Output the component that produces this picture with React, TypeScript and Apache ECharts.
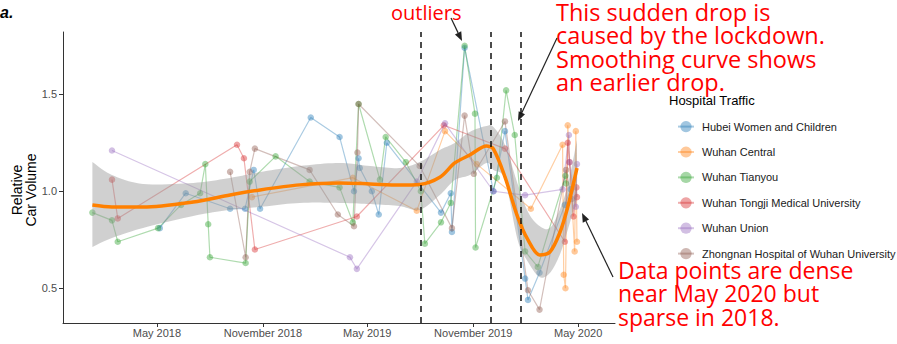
import React, { useEffect, useRef } from 'react';
import * as echarts from 'echarts';

// ---------- data ----------
const hospitalNames = [
  'Hubei Women and Children',
  'Wuhan Central',
  'Wuhan Tianyou',
  'Wuhan Tongji Medical University',
  'Wuhan Union',
  'Zhongnan Hospital of Wuhan University',
];
const hospitalColors = ['#1f77b4', '#ff7f0e', '#2ca02c', '#d62728', '#9467bd', '#8c564b'];

const hubeiWomenChildren: [string, number][] = [
  ['2018-05-06', 0.81], ['2018-06-20', 0.99], ['2018-09-05', 0.91], ['2018-10-01', 0.91],
  ['2018-10-16', 1.11], ['2018-10-27', 0.91], ['2019-01-23', 1.38], ['2019-03-14', 1.28],
  ['2019-04-08', 1.0], ['2019-04-16', 1.17], ['2019-04-18', 1.12], ['2019-05-09', 1.0],
  ['2019-05-21', 0.88], ['2019-06-04', 1.25], ['2019-09-06', 0.89], ['2019-09-23', 0.99],
  ['2019-09-25', 0.79], ['2019-10-17', 1.74], ['2019-12-06', 1.0], ['2019-12-26', 1.31],
  ['2020-01-30', 0.55], ['2020-02-04', 0.44], ['2020-02-24', 0.58], ['2020-04-08', 0.93],
  ['2020-04-18', 1.01],
];
const wuhanCentral: [string, number][] = [
  ['2018-10-13', 0.97], ['2019-04-06', 1.07], ['2019-07-26', 0.9], ['2019-09-13', 1.31],
  ['2019-11-07', 1.14], ['2020-02-09', 0.91], ['2020-04-04', 1.24], ['2020-04-06', 0.57],
  ['2020-04-09', 0.5], ['2020-04-13', 1.34], ['2020-04-25', 0.69], ['2020-04-27', 1.31],
  ['2020-04-29', 0.74],
];
const wuhanTianyou: [string, number][] = [
  ['2018-01-09', 0.89], ['2018-02-12', 0.85], ['2018-02-22', 0.74], ['2018-05-03', 0.81],
  ['2018-06-12', 0.93], ['2018-07-15', 0.99], ['2018-07-24', 1.14], ['2018-07-29', 0.83],
  ['2018-08-01', 0.66], ['2018-10-02', 0.63], ['2018-10-09', 1.05], ['2018-11-23', 1.18],
  ['2019-01-21', 1.05], ['2019-03-14', 1.02], ['2019-04-06', 0.84], ['2019-04-16', 1.45],
  ['2019-05-23', 1.06], ['2019-06-02', 1.28], ['2019-07-07', 1.15], ['2019-08-02', 1.0],
  ['2019-08-09', 0.73], ['2019-09-06', 0.84], ['2019-09-23', 0.94], ['2019-10-17', 1.75],
  ['2019-11-04', 1.4], ['2019-11-05', 0.71], ['2019-12-12', 1.07], ['2019-12-28', 1.52],
  ['2020-01-12', 1.29], ['2020-01-30', 0.69], ['2020-02-21', 0.61], ['2020-04-09', 1.08],
  ['2020-04-10', 1.04],
];
const wuhanTongji: [string, number][] = [
  ['2018-02-12', 1.06], ['2018-02-22', 0.86], ['2018-09-17', 1.24], ['2018-09-29', 1.17],
  ['2018-10-18', 0.7], ['2019-04-13', 0.87], ['2019-09-11', 1.34], ['2019-12-26', 1.22],
  ['2020-04-08', 0.74], ['2020-04-13', 1.25], ['2020-04-16', 1.15], ['2020-04-23', 0.87],
  ['2020-04-28', 1.02], ['2020-04-29', 0.97],
];
const wuhanUnion: [string, number][] = [
  ['2018-02-12', 1.21], ['2019-04-01', 0.66], ['2019-04-13', 0.6], ['2019-07-26', 1.05],
  ['2019-09-13', 1.35], ['2019-12-06', 1.0], ['2020-01-30', 0.98], ['2020-04-04', 1.01],
  ['2020-04-15', 1.29], ['2020-04-16', 1.15], ['2020-04-27', 0.92], ['2020-04-29', 1.14],
];
const zhongnan: [string, number][] = [
  ['2018-09-05', 1.1], ['2018-10-02', 0.66], ['2018-10-09', 1.1], ['2018-10-18', 1.22],
  ['2019-01-21', 1.11], ['2019-03-11', 0.88], ['2019-04-08', 0.82], ['2019-04-14', 1.2],
  ['2019-04-16', 1.45], ['2019-07-31', 1.13], ['2019-09-25', 0.81], ['2019-10-17', 1.39],
  ['2019-11-02', 1.09], ['2019-12-26', 1.36], ['2020-02-04', 0.49], ['2020-02-24', 0.39],
  ['2020-04-10', 1.11], ['2020-04-20', 0.96],
];
const hospitalSeries = [hubeiWomenChildren, wuhanCentral, wuhanTianyou, wuhanTongji, wuhanUnion, zhongnan];

const smoothDates = [
  '2018-01-09', '2018-02-12', '2018-04-07', '2018-07-03', '2018-09-05', '2018-10-27',
  '2019-01-04', '2019-03-14', '2019-05-06', '2019-06-26', '2019-07-31', '2019-09-04',
  '2019-09-30', '2019-10-26', '2019-11-24', '2019-12-06', '2019-12-26', '2020-01-17',
  '2020-02-04', '2020-02-24', '2020-03-13', '2020-03-30', '2020-04-13', '2020-04-29',
];
const smoothFit = [
  0.929, 0.919, 0.919, 0.945, 0.981, 1.007, 1.033, 1.043, 1.038, 1.032, 1.035, 1.072,
  1.146, 1.187, 1.234, 1.218, 1.074, 0.868, 0.749, 0.672, 0.687, 0.785, 0.919, 1.12,
];
const bandUpper = [
  1.151, 1.084, 1.038, 1.043, 1.069, 1.099, 1.13, 1.146, 1.13, 1.12, 1.151, 1.213,
  1.249, 1.306, 1.337, 1.331, 1.239, 1.038, 0.893, 0.821, 0.811, 0.904, 1.033, 1.264,
];
const bandLower = [
  0.713, 0.759, 0.811, 0.873, 0.904, 0.919, 0.94, 0.94, 0.934, 0.924, 0.904, 0.981,
  1.058, 1.084, 1.146, 1.11, 1.058, 0.749, 0.636, 0.558, 0.579, 0.672, 0.801, 0.966,
];

const markerDates = ['2019-08-02', '2019-12-02', '2020-01-23'];

const xTickDates = ['2018-05-01', '2018-11-01', '2019-05-01', '2019-11-01', '2020-05-01'];
const xTickLabels = ['May 2018', 'November 2018', 'May 2019', 'November 2019', 'May 2020'];
const xRange = ['2017-11-19', '2020-07-04'];
const yTicks = [0.5, 1.0, 1.5];
const yRange = [0.321, 1.821];

// ---------- helpers ----------
const ts = (s: string) => {
  const [y, m, d] = s.split('-').map(Number);
  return Date.UTC(y, m - 1, d);
};

const FONT = 'Liberation Sans, Arial, sans-serif';
const ANNOT_FONT = 'Open Sans, DejaVu Sans, sans-serif';

// Catmull-Rom resampling of an already-projected pixel polyline (for a smooth band edge)
function spline(pts: number[][], steps = 10): number[][] {
  const out: number[][] = [];
  const n = pts.length;
  for (let i = 0; i < n - 1; i++) {
    const p0 = pts[Math.max(0, i - 1)], p1 = pts[i], p2 = pts[i + 1], p3 = pts[Math.min(n - 1, i + 2)];
    for (let s = 0; s < steps; s++) {
      const t = s / steps, t2 = t * t, t3 = t2 * t;
      const f = (a: number, b: number, c: number, d: number) =>
        0.5 * (2 * b + (-a + c) * t + (2 * a - 5 * b + 4 * c - d) * t2 + (-a + 3 * b - 3 * c + d) * t3);
      out.push([f(p0[0], p1[0], p2[0], p3[0]), f(p0[1], p1[1], p2[1], p3[1])]);
    }
  }
  out.push(pts[n - 1]);
  return out;
}

function arrow(x1: number, y1: number, x2: number, y2: number, color = '#222', w = 1.2) {
  const ang = Math.atan2(y2 - y1, x2 - x1);
  const L = 9, H = 3.5;
  const bx = x2 - L * Math.cos(ang), by = y2 - L * Math.sin(ang);
  const px = -Math.sin(ang) * H, py = Math.cos(ang) * H;
  return [
    { type: 'line', shape: { x1, y1, x2: bx, y2: by }, style: { stroke: color, lineWidth: w }, silent: true },
    {
      type: 'polygon',
      shape: { points: [[x2, y2], [bx + px, by + py], [bx - px, by - py]] },
      style: { fill: color },
      silent: true,
    },
  ];
}

export default function App() {
  const ref = useRef<HTMLDivElement>(null);

  useEffect(() => {
    if (!ref.current) return;
    const chart = echarts.init(ref.current, undefined, { renderer: 'svg' });

    const xTickTs = xTickDates.map(ts);

    const dataSeries = hospitalSeries.map((pts, i) => ({
      type: 'line',
      name: hospitalNames[i],
      data: pts.map(([d, v]) => [ts(d), v]),
      symbol: 'circle',
      symbolSize: 6.5,
      showAllSymbol: true,
      lineStyle: { color: hospitalColors[i], width: 1.2, opacity: 0.38 },
      itemStyle: { color: hospitalColors[i], opacity: 0.42 },
      emphasis: { disabled: true },
      z: 2,
    }));

    const option: any = {
      animation: false,
      textStyle: { fontFamily: FONT },
      grid: { left: 63, right: 282, top: 32, bottom: 21, containLabel: false },
      xAxis: {
        type: 'value',
        min: ts(xRange[0]),
        max: ts(xRange[1]),
        splitLine: { show: false },
        axisLine: { show: true, lineStyle: { color: '#333', width: 1 } },
        axisTick: { show: true, length: 4, lineStyle: { color: '#333' }, customValues: xTickTs },
        axisLabel: {
          customValues: xTickTs,
          color: '#4d4d4d',
          fontSize: 11,
          margin: 4,
          formatter: (v: number) => {
            let best = 0;
            xTickTs.forEach((t, i) => {
              if (Math.abs(t - v) < Math.abs(xTickTs[best] - v)) best = i;
            });
            return xTickLabels[best];
          },
        },
      },
      yAxis: {
        type: 'value',
        min: yRange[0],
        max: yRange[1],
        splitLine: { show: false },
        axisLine: { show: true, lineStyle: { color: '#333', width: 1 } },
        axisTick: { show: true, length: 4, lineStyle: { color: '#333' }, customValues: yTicks },
        axisLabel: {
          customValues: yTicks,
          color: '#4d4d4d',
          fontSize: 11,
          margin: 6,
          formatter: (v: number) => v.toFixed(1),
        },
      },
      legend: {
        data: hospitalNames,
        orient: 'vertical',
        left: 672,
        top: 116,
        itemWidth: 16,
        itemHeight: 14,
        itemGap: 14.2,
        selectedMode: false,
        textStyle: { fontSize: 11, color: '#1a1a1a', fontFamily: FONT, padding: [0, 0, 0, 3] },
      },
      series: [
        ...dataSeries,
        {
          type: 'custom',
          name: 'band',
          data: smoothDates.map((d, i) => [ts(d), bandLower[i], bandUpper[i]]),
          encode: { x: 0, y: [1, 2] },
          silent: true,
          z: 3,
          renderItem: (params: any, api: any) => {
            if (params.dataIndex !== 0) return null;
            const up = smoothDates.map((d, i) => api.coord([ts(d), bandUpper[i]]));
            const lo = smoothDates.map((d, i) => api.coord([ts(d), bandLower[i]]));
            const pts = [...spline(up), ...spline(lo).reverse()];
            return { type: 'polygon', shape: { points: pts }, style: { fill: 'rgba(150,150,150,0.45)' } };
          },
        },
        {
          type: 'line',
          name: 'smooth',
          data: smoothDates.map((d, i) => [ts(d), smoothFit[i]]),
          symbol: 'none',
          smooth: 0.3,
          lineStyle: { color: '#ff8000', width: 3.5 },
          silent: true,
          z: 4,
          markLine: {
            silent: true,
            symbol: ['none', 'none'],
            label: { show: false },
            lineStyle: { color: '#111', width: 1.5, type: [6, 5] },
            data: markerDates.map((d) => ({ xAxis: ts(d) })),
          },
        },
      ],
      graphic: [
        {
          type: 'text', x: 0, y: 12,
          style: { text: 'a.', fontSize: 16, fontWeight: 'bold', fontStyle: 'italic', fontFamily: FONT, fill: '#000', align: 'left', verticalAlign: 'middle' },
        },
        {
          type: 'text', x: 23.5, y: 190, rotation: Math.PI / 2,
          style: { text: 'Relative\nCar Volume', fontSize: 14, lineHeight: 14, fontFamily: FONT, fill: '#000', align: 'center', verticalAlign: 'middle' },
        },
        {
          type: 'text', x: 669, y: 100,
          style: { text: 'Hospital Traffic', fontSize: 13, fontFamily: FONT, fill: '#000', align: 'left', verticalAlign: 'middle' },
        },
        {
          type: 'text', x: 391, y: 12,
          style: { text: 'outliers', fontSize: 20, fontFamily: ANNOT_FONT, fill: '#ff0000', align: 'left', verticalAlign: 'middle' },
        },
        {
          type: 'text', x: 556, y: 0,
          style: {
            text: 'This sudden drop is\ncaused by the lockdown.\nSmoothing curve shows\nan earlier drop.',
            fontSize: 23.5, lineHeight: 23.4, fontFamily: ANNOT_FONT, fill: '#ff0000', align: 'left', verticalAlign: 'top',
          },
        },
        {
          type: 'text', x: 618, y: 258,
          style: {
            text: 'Data points are dense\nnear May 2020 but\nsparse in 2018.',
            fontSize: 23, lineHeight: 23.6, fontFamily: ANNOT_FONT, fill: '#ff0000', align: 'left', verticalAlign: 'top',
          },
        },
        ...arrow(451, 18, 462, 41),
        ...arrow(557, 38, 518, 121),
        ...arrow(613, 277, 582, 213),
      ],
    };

    chart.setOption(option);
    return () => chart.dispose();
  }, []);

  return <div ref={ref} style={{ position: 'fixed', left: 0, top: 0, width: 897, height: 344, background: '#fff' }} />;
}
